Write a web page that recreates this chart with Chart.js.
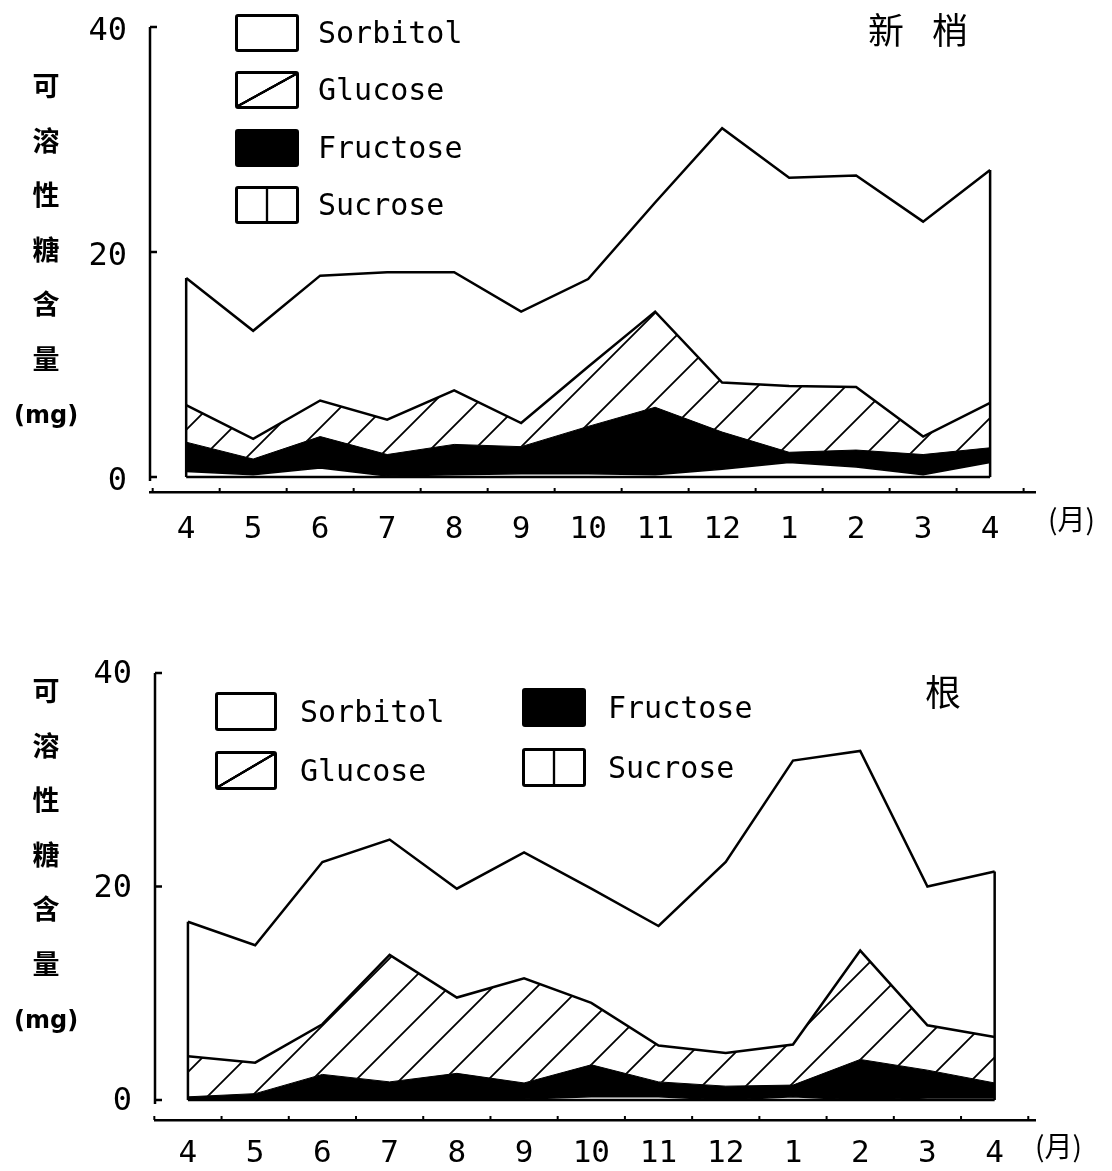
<!DOCTYPE html>
<html>
<head>
<meta charset="utf-8">
<script src="https://cdn.jsdelivr.net/npm/chart.js@4.4.0/dist/chart.umd.min.js"></script>
<style>
  body { margin: 0; background: #fff; }
  #page { position: relative; width: 1112px; height: 1171px; overflow: hidden; background: #fff; }
  .panel { position: absolute; left: 0; width: 1112px; }
  .panel canvas { position: absolute; left: 0; top: 0; }
  .ytitle { position: absolute; left: 14px; width: 64px; text-align: center;
            font-family: "Noto Sans CJK SC"; font-weight: bold; font-size: 27px; line-height: 54.5px; color: #000; }
  .ytitle .mg { font-family: "DejaVu Sans"; font-weight: bold; font-size: 24px; }
  .title { position: absolute; font-family: "Noto Sans CJK SC"; font-size: 36px; color: #000; letter-spacing: 28px; }
  .unit { position: absolute; font-family: "Noto Sans CJK SC"; font-size: 28px; color: #000; }
  .sw { position: absolute; box-sizing: border-box; border: 3px solid #000; border-radius: 3px; background: #fff; }
  .sw.glu { background: linear-gradient(to bottom right, transparent calc(50% - 1.6px), #000 calc(50% - 1px), #000 calc(50% + 1px), transparent calc(50% + 1.6px)); }
  .sw.fru { background: #000; }
  .sw.suc { background: linear-gradient(to right, transparent calc(50% - 1.6px), #000 calc(50% - 1px), #000 calc(50% + 1px), transparent calc(50% + 1.6px)); }
  .lt { position: absolute; font-family: "DejaVu Sans Mono"; font-size: 30px; color: #000; white-space: nowrap; }
</style>
</head>
<body>
<div id="page">
  <div class="panel" style="top:0;height:560px;">
    <canvas id="shoot" width="1112" height="560"></canvas>
  </div>
  <div class="panel" style="top:600px;height:571px;">
    <canvas id="root" width="1112" height="571"></canvas>
  </div>

  <div class="ytitle" style="top:58px;">可<br>溶<br>性<br>糖<br>含<br>量<br><span class="mg">(mg)</span></div>
  <div class="title" style="left:868px;top:2px;">新梢</div>
  <div class="unit" style="left:1048px;top:498px;">(月)</div>

  <div class="sw" style="left:235px;top:14px;width:64px;height:38px;"></div>
  <div class="lt" style="left:318px;top:14px;line-height:38px;">Sorbitol</div>
  <div class="sw glu" style="left:235px;top:71px;width:64px;height:38px;"></div>
  <div class="lt" style="left:318px;top:71px;line-height:38px;">Glucose</div>
  <div class="sw fru" style="left:235px;top:129px;width:64px;height:38px;"></div>
  <div class="lt" style="left:318px;top:129px;line-height:38px;">Fructose</div>
  <div class="sw suc" style="left:235px;top:186px;width:64px;height:38px;"></div>
  <div class="lt" style="left:318px;top:186px;line-height:38px;">Sucrose</div>

  <div class="ytitle" style="top:663px;">可<br>溶<br>性<br>糖<br>含<br>量<br><span class="mg">(mg)</span></div>
  <div class="title" style="left:925px;top:664px;">根</div>
  <div class="unit" style="left:1035px;top:1125px;">(月)</div>

  <div class="sw" style="left:215px;top:692px;width:62px;height:39px;"></div>
  <div class="lt" style="left:300px;top:692px;line-height:39px;">Sorbitol</div>
  <div class="sw glu" style="left:215px;top:751px;width:62px;height:39px;"></div>
  <div class="lt" style="left:300px;top:751px;line-height:39px;">Glucose</div>
  <div class="sw fru" style="left:522px;top:688px;width:64px;height:39px;"></div>
  <div class="lt" style="left:608px;top:688px;line-height:39px;">Fructose</div>
  <div class="sw suc" style="left:522px;top:748px;width:64px;height:39px;"></div>
  <div class="lt" style="left:608px;top:748px;line-height:39px;">Sucrose</div>
</div>

<script>
// months of sampling, April to April
const months = ['4', '5', '6', '7', '8', '9', '10', '11', '12', '1', '2', '3', '4'];
const yTickValues = [0, 20, 40];

// 新梢 (new shoots), mg
const shootSucrose  = [0.5, 0.2, 0.8, 0.1, 0.2, 0.3, 0.3, 0.2, 0.7, 1.3, 0.9, 0.2, 1.3];
const shootFructose = [2.6, 1.4, 2.8, 1.9, 2.7, 2.4, 4.2, 6.0, 3.3, 0.9, 1.5, 1.8, 1.3];
const shootGlucose  = [3.3, 1.8, 3.2, 3.1, 4.8, 2.1, 5.3, 8.5, 4.4, 5.9, 5.6, 1.6, 4.0];
const shootSorbitol = [11.3, 9.6, 11.1, 13.1, 10.5, 9.9, 7.8, 9.7, 22.6, 18.5, 18.8, 19.1, 20.7];

// 根 (roots), mg
const rootSucrose  = [0, 0, 0, 0, 0, 0.1, 0.3, 0.3, 0, 0.3, 0, 0.2, 0.2];
const rootFructose = [0.3, 0.6, 2.4, 1.7, 2.5, 1.5, 3.0, 1.4, 1.3, 1.1, 3.8, 2.6, 1.4];
const rootGlucose  = [3.8, 2.9, 4.7, 11.9, 7.1, 9.8, 5.8, 3.4, 3.1, 3.8, 10.2, 4.2, 4.3];
const rootSorbitol = [12.6, 11.0, 15.2, 10.8, 10.2, 11.8, 10.7, 11.2, 17.9, 26.6, 18.7, 13.0, 15.5];

Chart.defaults.font.family = 'DejaVu Sans Mono';
Chart.defaults.color = '#000';

// diagonal hatch for glucose
function hatchPattern() {
  const s = 44;
  const c = document.createElement('canvas');
  c.width = s; c.height = s;
  const g = c.getContext('2d');
  g.fillStyle = '#fff';
  g.fillRect(0, 0, s, s);
  g.strokeStyle = '#000';
  g.lineWidth = 1.8;
  g.beginPath();
  g.moveTo(-4, s + 4); g.lineTo(s + 4, -4);
  g.moveTo(-4, 4); g.lineTo(4, -4);
  g.moveTo(s - 4, s + 4); g.lineTo(s + 4, s - 4);
  g.stroke();
  return g.createPattern(c, 'repeat');
}
const hatch = hatchPattern();

function pts(arr) {
  return arr.map((v, i) => ({ x: i, y: v }));
}

// closes the stacked polygon and draws the bracket-style y axis
const outline = {
  id: 'outline',
  afterDatasetsDraw(chart) {
    const xs = chart.scales.x, ys = chart.scales.y, ctx = chart.ctx;
    const n = months.length;
    const total = months.map((m, i) =>
      chart.data.datasets.reduce((s, d) => s + d.data[i].y, 0));
    const y0 = ys.getPixelForValue(0);
    ctx.save();
    ctx.strokeStyle = '#000';
    ctx.lineWidth = 2.5;
    ctx.beginPath();
    [0, n - 1].forEach(i => {
      const px = xs.getPixelForValue(i);
      ctx.moveTo(px, y0);
      ctx.lineTo(px, ys.getPixelForValue(total[i]));
    });
    ctx.moveTo(xs.getPixelForValue(0), y0);
    ctx.lineTo(xs.getPixelForValue(n - 1), y0);
    ctx.stroke();

    // y axis line with inward ticks
    const left = chart.chartArea.left;
    ctx.beginPath();
    ctx.moveTo(left, ys.getPixelForValue(40));
    ctx.lineTo(left, y0 + 4);
    yTickValues.forEach(v => {
      const py = ys.getPixelForValue(v);
      ctx.moveTo(left, py);
      ctx.lineTo(left + 7, py);
    });
    ctx.stroke();

    // small marks between months on the x axis
    ctx.lineWidth = 2;
    ctx.beginPath();
    for (let k = 0; k <= n; k++) {
      const px = xs.getPixelForValue(k - 0.5);
      ctx.moveTo(px, chart.chartArea.bottom);
      ctx.lineTo(px, chart.chartArea.bottom - 4);
    }
    ctx.stroke();
    ctx.restore();
  }
};

function makeChart(id, series, f) {
  return new Chart(document.getElementById(id), {
    type: 'line',
    data: {
      datasets: [
        { label: 'Sucrose', data: pts(series.sucrose), fill: 'origin',
          backgroundColor: '#fff', borderColor: '#000', borderWidth: 1.5 },
        { label: 'Fructose', data: pts(series.fructose), fill: '-1',
          backgroundColor: '#000', borderColor: '#000', borderWidth: 1 },
        { label: 'Glucose', data: pts(series.glucose), fill: '-1',
          backgroundColor: hatch, borderColor: '#000', borderWidth: 2.5 },
        { label: 'Sorbitol', data: pts(series.sorbitol), fill: '-1',
          backgroundColor: '#fff', borderColor: '#000', borderWidth: 2.5 }
      ]
    },
    options: {
      responsive: false,
      animation: false,
      layout: { padding: { top: f.top, right: f.right, left: 0, bottom: 0 } },
      elements: { point: { radius: 0 }, line: { tension: 0 } },
      plugins: { legend: { display: false }, tooltip: { enabled: false } },
      scales: {
        x: {
          type: 'linear',
          min: f.xMin, max: f.xMax,
          grid: { display: false },
          border: { display: true, color: '#000', width: 2.5 },
          afterBuildTicks: axis => { axis.ticks = months.map((m, i) => ({ value: i })); },
          afterFit: axis => { axis.height = f.xHeight; },
          ticks: {
            autoSkip: false, maxRotation: 0, padding: f.xPad,
            font: { size: 31 },
            callback: (v, i) => months[i]
          }
        },
        y: {
          stacked: true,
          min: f.yMin, max: 40,
          grid: { display: false },
          border: { display: false },
          afterBuildTicks: axis => { axis.ticks = yTickValues.map(v => ({ value: v })); },
          afterFit: axis => {
            axis.width = f.yWidth;
            axis.paddingTop = 0;
            axis.paddingBottom = 0;
          },
          ticks: { padding: 15, labelOffset: f.yLabOff, font: { size: 32 } }
        }
      }
    },
    plugins: [outline]
  });
}

makeChart('shoot',
  { sucrose: shootSucrose, fructose: shootFructose, glucose: shootGlucose, sorbitol: shootSorbitol },
  { top: 27, right: 77, yWidth: 150, xHeight: 68, xPad: 11, yLabOff: 5, yMin: -1.33, xMin: -0.54, xMax: 12.67 });

makeChart('root',
  { sucrose: rootSucrose, fructose: rootFructose, glucose: rootGlucose, sorbitol: rootSorbitol },
  { top: 73, right: 77, yWidth: 155, xHeight: 51, xPad: 7, yLabOff: 2, yMin: -1.87, xMin: -0.49, xMax: 12.6 });
</script>
</body>
</html>
